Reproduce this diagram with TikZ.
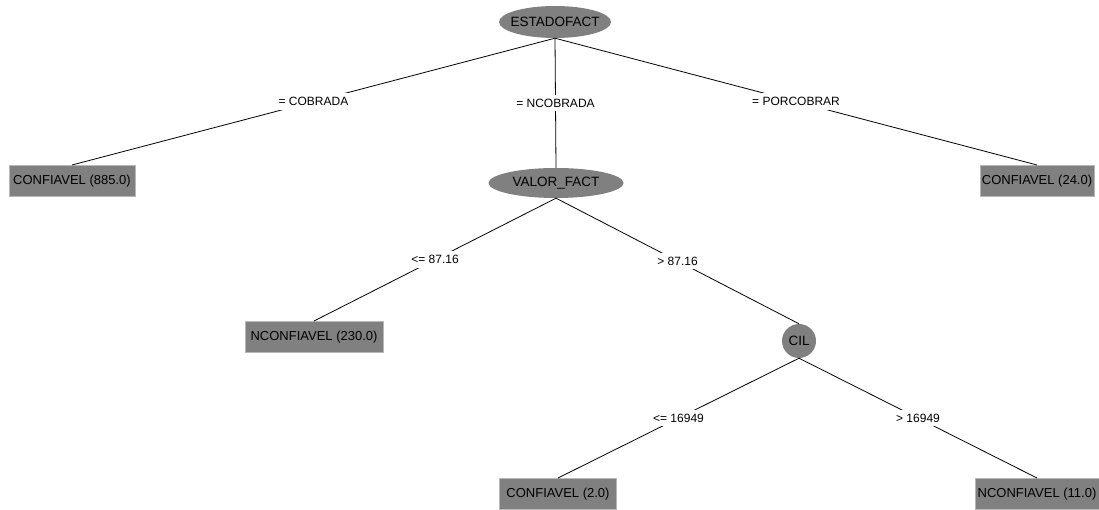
\documentclass[tikz,border=0pt]{standalone}
\usepackage{fontspec}
\setmainfont{Liberation Sans}
\usetikzlibrary{shapes.geometric}
\definecolor{nodegray}{HTML}{808080}
\definecolor{boxedge}{HTML}{B8B8B8}
\tikzset{
  every node/.style={font=\fontsize{13}{15}\selectfont},
  splitnode/.style={ellipse, fill=nodegray, inner xsep=-14pt, inner ysep=-3pt, font=\fontsize{13.5}{15}\selectfont},
  leafbox/.style={rectangle, fill=nodegray, draw=boxedge, line width=1pt, inner sep=0pt, minimum height=31pt, font=\fontsize{13}{15}\selectfont},
  edgelbl/.style={fill=white, inner xsep=6pt, inner ysep=4pt, pos=0.5, font=\fontsize{12}{14}\selectfont},
  edge/.style={black, line width=0.8pt}
}
\begin{document}
\begin{tikzpicture}[x=1pt,y=-1pt]
\useasboundingbox (0,0) rectangle (1099,510);
\fill[white] (0,0) rectangle (1099,510);
% split nodes
\node[splitnode, minimum width=112pt, minimum height=32pt] (root) at (555,22) {ESTADOFACT};
\node[splitnode, minimum width=135pt, minimum height=30pt] (valor) at (556,183) {VALOR\_FACT};
\node[circle, fill=nodegray, inner sep=0pt, minimum size=34pt, font=\fontsize{13.5}{15}\selectfont] (cil) at (799,341) {CIL};
% leaves
\node[leafbox, minimum width=126pt] (c885) at (72,181) {CONFIAVEL (885.0)};
\node[leafbox, minimum width=114pt] (c24) at (1037,181) {CONFIAVEL (24.0)};
\node[leafbox, minimum width=138pt] (n230) at (314,337) {NCONFIAVEL (230.0)};
\node[leafbox, minimum width=117pt] (c2) at (558,494) {CONFIAVEL (2.0)};
\node[leafbox, minimum width=124pt] (n11) at (1037,494) {NCONFIAVEL (11.0)};
% edges
\draw[edge] (root.south) -- (c885.north) node[edgelbl] (l1) {= COBRADA};
\draw[edge] (root.south) -- (valor.north) node[edgelbl] (l2) {= NCOBRADA};
\draw[edge] (root.south) -- (c24.north) node[edgelbl] (l3) {= PORCOBRAR};
\draw[edge] (valor.south) -- (n230.north) node[edgelbl] (l4) {<= 87.16};
\draw[edge] (valor.south) -- (cil.north) node[edgelbl] (l5) {> 87.16};
\draw[edge] (cil.south) -- (c2.north) node[edgelbl] (l6) {<= 16949};
\draw[edge] (cil.south) -- (n11.north) node[edgelbl] (l7) {> 16949};
\end{tikzpicture}
\end{document}
